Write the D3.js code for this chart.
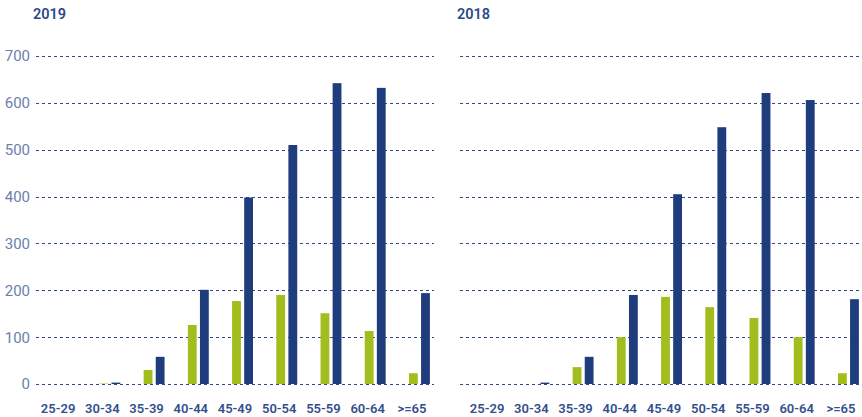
<!DOCTYPE html>
<html>
<head>
<meta charset="utf-8">
<script src="https://cdn.jsdelivr.net/npm/d3@7"></script>
<style>
  body { margin: 0; background: #fff; }
  svg { display: block; font-family: Roboto, "Noto Sans", sans-serif; }
</style>
</head>
<body>
<div id="chart"></div>
<script>
// age groups
var categories = ["25-29", "30-34", "35-39", "40-44", "45-49", "50-54", "55-59", "60-64", ">=65"];
// green series and blue series
var green2019 = [0, 1, 30, 126, 177, 190, 151, 113, 23];
var navy2019 = [0, 3, 58, 201, 398, 510, 642, 632, 194];
var green2018 = [0, 0, 36, 100, 186, 164, 141, 100, 23];
var navy2018 = [0, 3, 58, 190, 405, 548, 621, 606, 181];
var yTicks = [0, 100, 200, 300, 400, 500, 600, 700];

var width = 862, height = 417;
var colGreen = "#a2bd1e", colNavy = "#1f3d7c";

var svg = d3.select("#chart").append("svg")
    .attr("width", width)
    .attr("height", height);

var y = d3.scaleLinear().domain([0, 700]).range([384, 56]);

// one panel per year
function panel(title, green, navy, gx0, gx1, bx0, showY) {
    var g = svg.append("g");

    var x = d3.scaleBand().domain(categories).range([bx0, bx0 + 398]);
    // three slots per group, first one stays empty
    var x1 = d3.scaleBand().domain(["none", "green", "navy"])
        .range([-15, 18]).paddingInner(0.27);

    // dashed grid
    g.selectAll("line.grid")
        .data(yTicks)
        .enter().append("line")
        .attr("x1", gx0)
        .attr("x2", gx1)
        .attr("y1", function (d) { return Math.round(y(d)) + 0.5; })
        .attr("y2", function (d) { return Math.round(y(d)) + 0.5; })
        .attr("stroke", "#2b4a87")
        .attr("stroke-width", 1)
        .attr("stroke-dasharray", "3,3");

    if (showY) {
        g.selectAll("text.ytick")
            .data(yTicks)
            .enter().append("text")
            .attr("x", 30)
            .attr("y", function (d) { return y(d); })
            .attr("dy", "0.36em")
            .attr("text-anchor", "end")
            .attr("font-size", 15)
            .attr("fill", "#6a7fab")
            .text(function (d) { return d; });
    }

    var rows = categories.map(function (c, i) {
        return { cat: c, green: green[i], navy: navy[i] };
    });

    g.selectAll("rect.green")
        .data(rows)
        .enter().append("rect")
        .attr("x", function (d) { return x(d.cat) + x.bandwidth() / 2 + x1("green"); })
        .attr("width", x1.bandwidth())
        .attr("y", function (d) { return y(d.green); })
        .attr("height", function (d) { return y(0) - y(d.green); })
        .attr("fill", colGreen);

    g.selectAll("rect.navy")
        .data(rows)
        .enter().append("rect")
        .attr("x", function (d) { return x(d.cat) + x.bandwidth() / 2 + x1("navy"); })
        .attr("width", x1.bandwidth())
        .attr("y", function (d) { return y(d.navy); })
        .attr("height", function (d) { return y(0) - y(d.navy); })
        .attr("fill", colNavy);

    // x labels
    g.selectAll("text.xlab")
        .data(categories)
        .enter().append("text")
        .attr("x", function (d) { return x(d) + x.bandwidth() / 2; })
        .attr("y", 408)
        .attr("dy", "0.36em")
        .attr("text-anchor", "middle")
        .attr("font-size", 13)
        .attr("font-weight", 600)
        .attr("fill", "#34508c")
        .text(function (d) { return d; });

    g.append("text")
        .attr("x", gx0 - 3)
        .attr("y", 19)
        .attr("font-size", 14.5)
        .attr("font-weight", 600)
        .attr("fill", "#2b4a87")
        .text(title);
}

panel("2019", green2019, navy2019, 36, 434, 36, true);
panel("2018", green2018, navy2018, 460, 870, 465, false);
</script>
</body>
</html>
